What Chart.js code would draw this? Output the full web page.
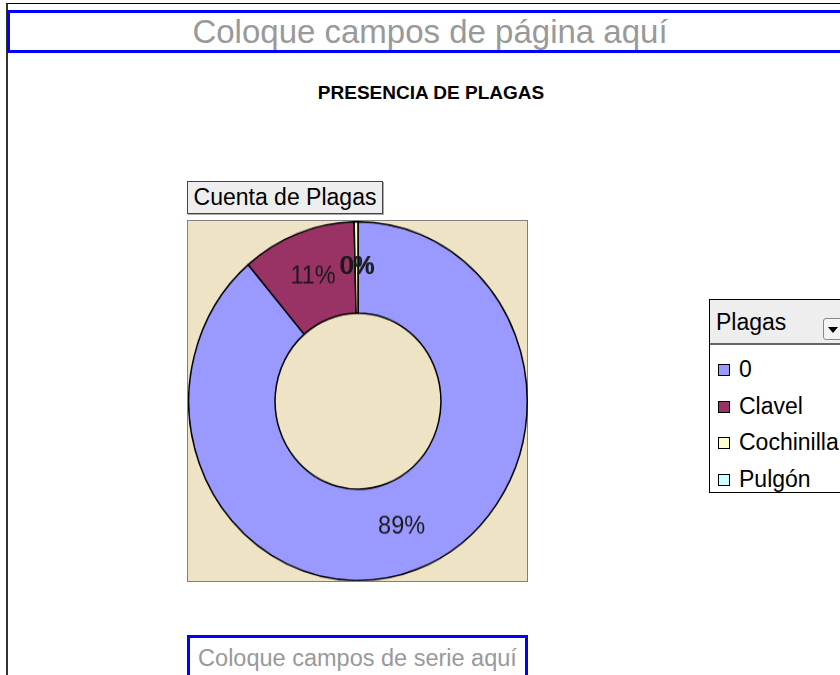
<!DOCTYPE html>
<html>
<head>
<meta charset="utf-8">
<script src="https://cdn.jsdelivr.net/npm/chart.js@4/dist/chart.umd.min.js"></script>
<style>
  html, body { margin: 0; padding: 0; background: #fff; }
  body { width: 840px; height: 675px; position: relative; overflow: hidden; font-family: "Liberation Sans", Arial, sans-serif; }
  .marco { position: absolute; left: 6px; top: 3px; width: 900px; height: 700px; border-left: 2px solid #333; border-top: 1px solid #000; }
  .zona { position: absolute; border: 3px solid #0000ff; color: #999; text-align: center; box-sizing: border-box; white-space: nowrap; }
  #zona-pagina { left: 7px; top: 10px; width: 846px; height: 43px; font-size: 33px; line-height: 37px; }
  #zona-serie { left: 187px; top: 635px; width: 341px; height: 50px; font-size: 23.5px; line-height: 40px; }
  #titulo { position: absolute; left: 0; width: 862px; top: 82px; text-align: center; font-weight: bold; font-size: 19px; color: #000; }
  #boton-datos { position: absolute; left: 187px; top: 181px; width: 196px; height: 33px; box-sizing: border-box; background: #eeeeee; border: 1px solid #444; box-shadow: 1px 1px 0 #aaa; font-size: 23px; line-height: 31px; text-align: center; white-space: nowrap; }
  #area { position: absolute; left: 187px; top: 220px; width: 341px; height: 362px; box-sizing: border-box; border: 1px solid #808080; background: #efe3c6; }
  #lienzo { position: absolute; left: 188px; top: 221px; width: 340px; height: 340px; transform: scaleY(1.06); transform-origin: top left; }
  #leyenda { position: absolute; left: 709px; top: 299px; width: 150px; height: 194px; box-sizing: border-box; border: 1px solid #000; background: #fff; font-size: 23px; }
  #leyenda .cabecera { height: 43px; background: #eeeeee; border-bottom: 2px solid #666; position: relative; }
  #leyenda .cabecera span { position: absolute; left: 6px; top: 9px; font-size: 23px; }
  #leyenda .flecha { position: absolute; left: 113px; top: 18px; width: 22px; height: 22px; box-sizing: border-box; border: 1px solid #888; border-radius: 3px; background: #f4f4f4; }
  #leyenda .flecha:after { content: ""; position: absolute; left: 4px; top: 8px; border-left: 5px solid transparent; border-right: 5px solid transparent; border-top: 6px solid #000; }
  #leyenda .item { position: absolute; left: 8px; height: 24px; line-height: 24px; white-space: nowrap; }
  #leyenda .cuadro { display: inline-block; width: 10px; height: 10px; border: 1px solid #000; margin-right: 9px; vertical-align: 1px; }
</style>
</head>
<body>
<div class="marco"></div>
<div class="zona" id="zona-pagina">Coloque campos de página aquí</div>
<div id="titulo">PRESENCIA DE PLAGAS</div>
<div id="boton-datos">Cuenta de Plagas</div>
<div id="area"></div>
<div id="lienzo"><canvas id="grafico"></canvas></div>
<div id="leyenda">
  <div class="cabecera"><span>Plagas</span><div class="flecha"></div></div>
</div>
<div class="zona" id="zona-serie">Coloque campos de serie aquí</div>
<script>
// Datos de la tabla dinámica
const plagas = ['0', 'Clavel', 'Cochinilla', 'Pulgón'];
const cuenta = [245, 30, 1, 0];
const colores = ['#9999ff', '#993366', '#ffffcc', '#ccffff'];

// Leyenda (HTML, como la de Excel)
const leyenda = document.getElementById('leyenda');
plagas.forEach((nombre, i) => {
    const item = document.createElement('div');
    item.className = 'item';
    item.style.top = (57 + i * 36.5) + 'px';
    item.innerHTML = '<span class="cuadro" style="background:' + colores[i] + '"></span>' + nombre;
    leyenda.appendChild(item);
});

// Porcentajes sobre cada porción
const etiquetas = {
    id: 'etiquetas',
    afterDatasetsDraw(chart) {
        const ctx = chart.ctx;
        const meta = chart.getDatasetMeta(0);
        const total = cuenta.reduce((a, b) => a + b, 0);
        ctx.save();
        ctx.font = '23.5px "Liberation Sans", Arial, sans-serif';
        ctx.fillStyle = '#1a1a1a';
        ctx.textAlign = 'center';
        ctx.textBaseline = 'middle';
        meta.data.forEach((arc, i) => {
            const p = arc.tooltipPosition();
            ctx.fillText(Math.round(cuenta[i] / total * 100) + '%', p.x, p.y);
        });
        ctx.restore();
    }
};

const ctx = document.getElementById('grafico').getContext('2d');
new Chart(ctx, {
    type: 'doughnut',
    data: {
        labels: plagas,
        datasets: [{
            data: cuenta,
            backgroundColor: colores,
            borderColor: '#000',
            borderWidth: 1.5
        }]
    },
    options: {
        responsive: true,
        maintainAspectRatio: false,
        animation: false,
        cutout: '49%',
        layout: { padding: 0 },
        plugins: {
            legend: { display: false },
            tooltip: { enabled: false }
        }
    },
    plugins: [etiquetas]
});
</script>
</body>
</html>
